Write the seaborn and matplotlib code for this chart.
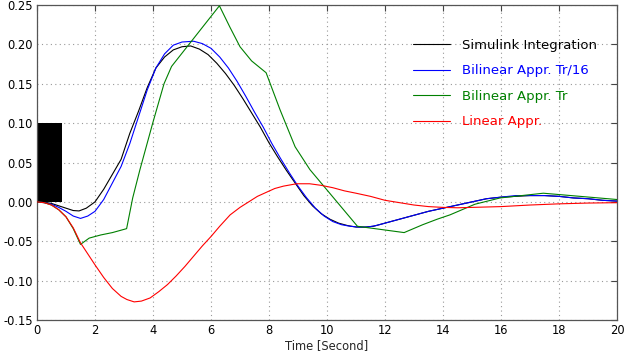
import matplotlib
matplotlib.use("Agg")
import matplotlib.pyplot as plt
import matplotlib.ticker as mticker
import seaborn as sns

# ---- data ----
sim_x = [0, 0.25, 0.5, 0.75, 1.0, 1.25, 1.45, 1.7, 2.0, 2.3, 2.6, 2.9, 3.2, 3.5, 3.8, 4.1, 4.4, 4.7,
         5.0, 5.3, 5.6, 5.9, 6.2, 6.5, 6.8, 7.1, 7.4, 7.7, 8.0, 8.3, 8.6, 8.9, 9.2, 9.5, 9.8, 10.1,
         10.4, 10.7, 11.0, 11.3, 11.6, 12.0, 12.5, 13.0, 13.5, 14.0, 14.5, 15.0, 15.5, 16.0, 16.5,
         17.0, 17.5, 18.0, 18.5, 19.0, 19.5, 20.0]
sim_y = [0, -0.0005, -0.002, -0.005, -0.008, -0.011, -0.0115, -0.008, 0.000, 0.016, 0.035, 0.054,
         0.087, 0.115, 0.145, 0.170, 0.184, 0.193, 0.197, 0.198, 0.194, 0.187, 0.176, 0.163, 0.148,
         0.131, 0.113, 0.095, 0.075, 0.057, 0.040, 0.024, 0.008, -0.005, -0.015, -0.022, -0.027,
         -0.030, -0.032, -0.032, -0.031, -0.027, -0.022, -0.017, -0.012, -0.008, -0.004, 0.000,
         0.004, 0.006, 0.007, 0.008, 0.008, 0.007, 0.005, 0.004, 0.002, 0.001]

bil16_x = [0, 0.25, 0.5, 0.75, 1.0, 1.25, 1.5, 1.75, 2.0, 2.3, 2.6, 2.9, 3.2, 3.5, 3.8, 4.1, 4.4, 4.7,
           5.0, 5.4, 5.7, 6.0, 6.3, 6.6, 6.9, 7.2, 7.5, 7.8, 8.1, 8.4, 8.7, 9.0, 9.3, 9.6, 9.9, 10.2,
           10.5, 10.8, 11.1, 11.4, 11.7, 12.0, 12.5, 13.0, 13.5, 14.0, 14.5, 15.0, 15.5, 16.0, 16.5,
           17.0, 17.5, 18.0, 18.5, 19.0, 19.5, 20.0]
bil16_y = [0, -0.001, -0.003, -0.007, -0.012, -0.018, -0.021, -0.018, -0.012, 0.003, 0.024, 0.045,
           0.074, 0.108, 0.142, 0.170, 0.188, 0.199, 0.203, 0.204, 0.201, 0.195, 0.184, 0.170, 0.153,
           0.134, 0.114, 0.095, 0.074, 0.055, 0.037, 0.020, 0.005, -0.008, -0.018, -0.025, -0.029,
           -0.031, -0.032, -0.032, -0.030, -0.027, -0.022, -0.017, -0.012, -0.008, -0.004, 0.000,
           0.004, 0.006, 0.008, 0.008, 0.008, 0.007, 0.005, 0.004, 0.002, 0.001]

bil_x = [0, 0.25, 0.5, 0.75, 1.0, 1.25, 1.5, 1.8, 2.2, 2.6, 3.09, 3.3, 3.55, 3.99, 4.38, 4.64, 6.29,
         6.65, 7.0, 7.4, 7.9, 8.38, 8.9, 9.41, 11.05, 12.66, 13.3, 13.8, 14.24, 15.1, 15.97, 17.46,
         20.0]
bil_y = [0, -0.001, -0.004, -0.010, -0.019, -0.034, -0.054, -0.046, -0.042, -0.039, -0.034, 0.005,
         0.041, 0.100, 0.150, 0.172, 0.249, 0.222, 0.197, 0.179, 0.164, 0.117, 0.070, 0.041, -0.031,
         -0.039, -0.029, -0.022, -0.0165, -0.003, 0.005, 0.011, 0.003]

lin_x = [0, 0.25, 0.5, 0.75, 1.0, 1.25, 1.5, 1.75, 2.0, 2.3, 2.6, 2.9, 3.1, 3.35, 3.6, 3.9, 4.2, 4.5,
         4.8, 5.1, 5.4, 5.7, 6.0, 6.3, 6.66, 7.0, 7.3, 7.6, 7.9, 8.2, 8.5, 8.95, 9.4, 9.8, 10.2, 10.6,
         11.0, 11.5, 12.0, 12.5, 13.0, 13.5, 14.0, 14.5, 15.0, 16.0, 17.0, 18.0, 19.0, 20.0]
lin_y = [0, -0.001, -0.004, -0.010, -0.019, -0.033, -0.052, -0.066, -0.080, -0.096, -0.110, -0.120,
         -0.124, -0.127, -0.126, -0.122, -0.114, -0.105, -0.094, -0.082, -0.069, -0.056, -0.044,
         -0.031, -0.0165, -0.007, 0.000, 0.007, 0.012, 0.017, 0.020, 0.023, 0.023, 0.021, 0.018,
         0.014, 0.011, 0.007, 0.002, -0.001, -0.004, -0.006, -0.007, -0.0075, -0.007, -0.006,
         -0.004, -0.0025, -0.0015, -0.001]

rect_x = [0.0]
rect_w = [0.87]
rect_h = [0.10]

labels = ["Simulink Integration", "Bilinear Appr. Tr/16", "Bilinear Appr. Tr", "Linear Appr."]
colors = ["black", "#0000ff", "#008000", "#ff0000"]

x_ticks = list(range(0, 21, 2))
y_ticks = [-0.15, -0.10, -0.05, 0.00, 0.05, 0.10, 0.15, 0.20, 0.25]

# ---- plot ----
sns.set_style("white")
plt.rcParams["font.family"] = ["DejaVu Sans"]

fig = plt.figure(figsize=(6.24, 3.53), dpi=100)
ax = fig.add_axes([37 / 624, 1 - 320 / 353, 580 / 624, 315 / 353])

ax.bar(rect_x, rect_h, width=rect_w, align="edge", color="black", linewidth=0, zorder=1)

series = [(sim_x, sim_y), (bil16_x, bil16_y), (bil_x, bil_y), (lin_x, lin_y)]
for (xs, ys), lab, col in zip(series, labels, colors):
    sns.lineplot(x=xs, y=ys, ax=ax, color=col, linewidth=0.8, label=lab, sort=False,
                 estimator=None, zorder=3)

ax.set_xlim(0, 20)
ax.set_ylim(-0.15, 0.25)
ax.set_xticks(x_ticks)
ax.set_yticks(y_ticks)
ax.yaxis.set_major_formatter(mticker.FormatStrFormatter("%.2f"))
ax.tick_params(direction="in", top=True, right=True, length=4, width=0.8,
               labelsize=8.3, colors="#444444", labelcolor="black", pad=3)
ax.grid(True, linestyle=(0, (1, 3)), color="#999999", linewidth=0.8)
for s in ax.spines.values():
    s.set_color("#555555")
    s.set_linewidth(0.9)
ax.set_xlabel("Time [Second]", fontsize=8.3, labelpad=1)
ax.set_ylabel("")

leg = ax.legend(loc="upper left", bbox_to_anchor=((413 - 37) / 580, 1 - (38.5 - 5) / 315),
                frameon=False, fontsize=9.5, handlelength=2.8, handletextpad=0.95,
                labelspacing=0.96, borderpad=0, borderaxespad=0)
for txt, col in zip(leg.get_texts(), colors):
    txt.set_color(col)

fig.savefig("out.png", dpi=100)
